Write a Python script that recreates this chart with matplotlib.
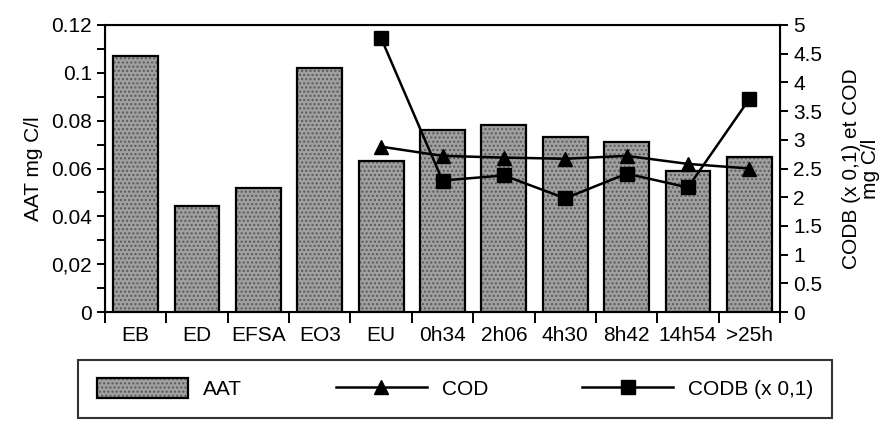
import matplotlib
matplotlib.use("Agg")
import matplotlib.pyplot as plt
import numpy as np

plt.rcParams["font.family"] = ["Liberation Sans", "DejaVu Sans"]

categories = ["EB", "ED", "EFSA", "EO3", "EU", "0h34", "2h06", "4h30", "8h42", "14h54", ">25h"]
aat = [0.107, 0.0445, 0.052, 0.102, 0.063, 0.076, 0.078, 0.073, 0.071, 0.059, 0.065]
# COD and CODB (x 0,1) only measured from EU onwards
line_cats = ["EU", "0h34", "2h06", "4h30", "8h42", "14h54", ">25h"]
cod = [2.88, 2.72, 2.69, 2.67, 2.72, 2.58, 2.50]
codb = [4.77, 2.29, 2.38, 1.98, 2.41, 2.17, 3.71]

left_ticks = [0, 0.02, 0.04, 0.06, 0.08, 0.1, 0.12]
left_labels = ["0", "0,02", "0.04", "0.06", "0.08", "0.1", "0.12"]
right_ticks = [0, 0.5, 1, 1.5, 2, 2.5, 3, 3.5, 4, 4.5, 5]
right_labels = ["0", "0.5", "1", "1.5", "2", "2.5", "3", "3.5", "4", "4.5", "5"]

BAR = "#a0a0a0"
FS = 15

fig = plt.figure(figsize=(8.9, 4.24), dpi=100)
ax = fig.add_axes([105 / 890, 1 - 312 / 424, 675 / 890, 287 / 424])
x = np.arange(len(categories))
bars = ax.bar(x, aat, width=0.73, color=BAR, edgecolor="black", linewidth=1.6,
              hatch="....", label="AAT")
for b in bars:
    b._hatch_color = (0.35, 0.35, 0.35, 1.0)
ax.set_xlim(-0.5, len(categories) - 0.5)
ax.set_ylim(0, 0.12)
ax.set_yticks(left_ticks, labels=left_labels, fontsize=FS)
ax.set_yticks(np.arange(0.01, 0.12, 0.02), minor=True)
ax.set_xticks(x, labels=categories, fontsize=FS)
ax.set_xticks(np.arange(len(categories) + 1) - 0.5, minor=True)
ax.tick_params(axis="x", which="major", length=0, pad=10)
ax.tick_params(axis="x", which="minor", length=8, width=1.4, direction="out")
ax.tick_params(axis="y", which="both", length=6, width=1.4)
ax.set_ylabel("AAT mg C/l", fontsize=FS, labelpad=6)
for s in ax.spines.values():
    s.set_linewidth(1.5)

ax2 = ax.twinx()
lx = [categories.index(c) for c in line_cats]
ax2.plot(lx, cod, color="black", lw=1.8, marker="^", ms=9.5, label="COD")
ax2.plot(lx, codb, color="black", lw=1.8, marker="s", ms=10, label="CODB (x 0,1)")
ax2.set_ylim(0, 5)
ax2.set_yticks(right_ticks, labels=right_labels, fontsize=FS)
ax2.tick_params(axis="y", length=6, width=1.4)
ax2.set_ylabel("CODB (x 0,1) et COD\nmg C/l", fontsize=FS, linespacing=1.0,
               labelpad=14, ha="center")

h1, l1 = ax.get_legend_handles_labels()
h2, l2 = ax2.get_legend_handles_labels()
leg = fig.legend(h1 + h2, l1 + l2, loc="lower left",
                 bbox_to_anchor=(78 / 890, 1 - 418 / 424, (832 - 78) / 890, 61 / 424),
                 mode="expand", ncol=3, fontsize=FS, frameon=True, fancybox=False,
                 edgecolor="black", handlelength=4.4, handleheight=1.05,
                 handletextpad=0.7, borderpad=0.9, borderaxespad=0.0)
leg.get_frame().set_linewidth(1.5)

fig.savefig("out.png", dpi=100)
